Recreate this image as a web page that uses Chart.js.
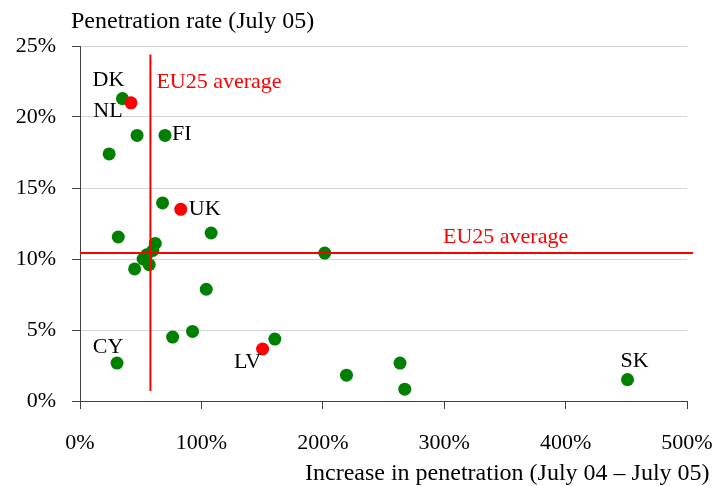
<!DOCTYPE html>
<html>
<head>
<meta charset="utf-8">
<script src="https://cdn.jsdelivr.net/npm/chart.js@4/dist/chart.umd.min.js"></script>
<style>
  body { margin: 0; background: #fff; }
  #wrap { width: 715px; height: 486px; position: relative; }
</style>
</head>
<body>
<div id="wrap"><canvas id="penChart"></canvas></div>
<script>
// Increase in penetration (x, %) vs penetration rate July 05 (y, %)
const greenIncrease = [35, 47, 70, 24, 68, 31.5, 108, 62, 60, 55, 52, 57, 45, 201.6, 104, 92.7, 76.3, 160.5, 30.5, 219.5, 263.6, 267.5, 451];
const greenRate     = [21.3, 18.7, 18.7, 17.4, 13.95, 11.55, 11.83, 11.1, 10.6, 10.3, 10.0, 9.6, 9.3, 10.42, 7.87, 4.9, 4.5, 4.36, 2.67, 1.82, 2.67, 0.83, 1.51];
const greenNames    = ['DK', '', 'FI', '', '', '', '', '', '', '', '', '', '', '', '', '', '', '', 'CY', '', '', '', 'SK'];

const redIncrease = [42, 83, 150.4];
const redRate     = [21.0, 13.5, 3.66];
const redNames    = ['NL', 'UK', 'LV'];

// EU25 average lines
const avgIncrease = 58;
const avgRate = 10.42;
const avgIncreaseSpan = [0.7, 24.4];  // y range of vertical line
const avgRateSpan = [0, 505];         // x range of horizontal line

const xTicks = [0, 100, 200, 300, 400, 500];
const yTicks = [0, 5, 10, 15, 20, 25];

const xTitle = 'Increase in penetration (July 04 \u2013 July 05)';
const yTitle = 'Penetration rate (July 05)';
const avgLabel = 'EU25 average';

const FONT = '"Liberation Serif", "Times New Roman", serif';

// label offsets in px relative to the point
const labelOffsets = {
  DK: [-14, -18, 'center'],
  NL: [-23, 8, 'center'],
  FI: [7, -1, 'left'],
  UK: [8, 0, 'left'],
  CY: [-9, -16, 'center'],
  LV: [-15, 13, 'center'],
  SK: [7, -18, 'center']
};

const toPoints = (xs, ys) => xs.map((x, i) => ({ x: x, y: ys[i] }));

const textPlugin = {
  id: 'texts',
  afterDatasetsDraw(chart) {
    const ctx = chart.ctx;
    const xs = chart.scales.x, ys = chart.scales.y;
    ctx.save();
    ctx.font = '22px ' + FONT;
    ctx.textBaseline = 'middle';
    ctx.fillStyle = '#000';

    const drawNames = (names, xv, yv) => {
      names.forEach((n, i) => {
        if (!n) return;
        const off = labelOffsets[n];
        ctx.textAlign = off[2];
        ctx.fillText(n, xs.getPixelForValue(xv[i]) + off[0], ys.getPixelForValue(yv[i]) + off[1]);
      });
    };
    drawNames(greenNames, greenIncrease, greenRate);
    drawNames(redNames, redIncrease, redRate);

    // average labels
    ctx.fillStyle = '#ff0000';
    ctx.textAlign = 'left';
    ctx.fillText(avgLabel, xs.getPixelForValue(avgIncrease) + 6, 82);
    ctx.fillText(avgLabel, 443, ys.getPixelForValue(avgRate) - 16);

    // axis titles
    ctx.fillStyle = '#000';
    ctx.font = '24px ' + FONT;
    ctx.textBaseline = 'alphabetic';
    ctx.fillText(yTitle, 71, 28);
    ctx.fillText(xTitle, 305, 480);
    ctx.restore();
  }
};

new Chart(document.getElementById('penChart'), {
  type: 'scatter',
  data: {
    datasets: [
      {
        type: 'line',
        data: [{ x: avgIncrease, y: avgIncreaseSpan[0] }, { x: avgIncrease, y: avgIncreaseSpan[1] }],
        borderColor: '#ff0000',
        borderWidth: 2,
        pointRadius: 0,
        clip: false,
        order: 0
      },
      {
        type: 'line',
        data: [{ x: avgRateSpan[0], y: avgRate }, { x: avgRateSpan[1], y: avgRate }],
        borderColor: '#ff0000',
        borderWidth: 2,
        pointRadius: 0,
        clip: false,
        order: 0
      },
      {
        data: toPoints(redIncrease, redRate),
        backgroundColor: '#ff0000',
        borderWidth: 0,
        pointRadius: 6.5,
        order: 1
      },
      {
        data: toPoints(greenIncrease, greenRate),
        backgroundColor: '#008000',
        borderWidth: 0,
        pointRadius: 6.5,
        order: 2
      }
    ]
  },
  options: {
    responsive: true,
    maintainAspectRatio: false,
    animation: false,
    layout: { padding: { top: 46, right: 28, left: 0, bottom: 0 } },
    plugins: {
      legend: { display: false },
      tooltip: { enabled: false }
    },
    scales: {
      x: {
        type: 'linear',
        min: 0,
        max: 500,
        afterFit: s => { s.height = 85; s.paddingLeft = 0; s.paddingRight = 0; },
        afterBuildTicks: s => { s.ticks = xTicks.map(v => ({ value: v })); },
        grid: { drawOnChartArea: false, tickLength: 8, tickColor: '#404040' },
        border: { color: '#404040', width: 1 },
        ticks: {
          color: '#000',
          font: { family: FONT, size: 22 },
          padding: 21,
          maxRotation: 0,
          callback: v => v + '%'
        }
      },
      y: {
        min: 0,
        max: 25,
        afterFit: s => { s.width = 80; s.paddingTop = 0; s.paddingBottom = 0; },
        afterBuildTicks: s => { s.ticks = yTicks.map(v => ({ value: v })); },
        grid: { color: '#d4d4d4', tickLength: 8, tickColor: '#404040' },
        border: { color: '#404040', width: 1 },
        ticks: {
          color: '#000',
          font: { family: FONT, size: 22 },
          padding: 16,
          callback: v => v + '%'
        }
      }
    }
  },
  plugins: [textPlugin]
});
</script>
</body>
</html>
